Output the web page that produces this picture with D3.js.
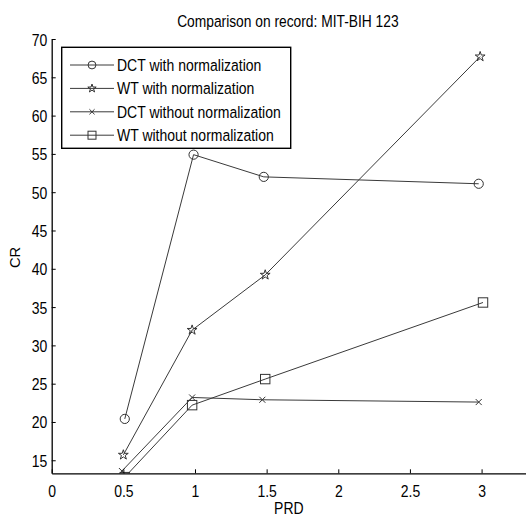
<!DOCTYPE html>
<html>
<head>
<meta charset="utf-8">
<script src="https://cdn.jsdelivr.net/npm/d3@7"></script>
<style>
  body { margin: 0; background: #fff; }
  text { font-family: "Liberation Sans", Arial, sans-serif; fill: #000; }
</style>
</head>
<body>
<div id="chart"></div>
<script>
// chart data
const SERIES_NAMES = ["DCT with normalization", "WT with normalization",
                      "DCT without normalization", "WT without normalization"];
const SERIES_MARKERS = ["circle", "star", "cross", "square"];

const PRD_DCT_NORM = [0.51, 0.99, 1.48, 2.98];
const CR_DCT_NORM = [20.4, 54.9, 52.0, 51.1];

const PRD_WT_NORM = [0.50, 0.98, 1.49, 2.99];
const CR_WT_NORM = [15.7, 32.0, 39.2, 67.7];

const PRD_DCT_RAW = [0.49, 0.98, 1.47, 2.98];
const CR_DCT_RAW = [13.6, 23.2, 22.9, 22.6];

const PRD_WT_RAW = [0.51, 0.98, 1.49, 3.01];
const CR_WT_RAW = [12.8, 22.2, 25.6, 35.6];

const X_TICKS = [0, 0.5, 1, 1.5, 2, 2.5, 3];
const Y_TICKS = [15, 20, 25, 30, 35, 40, 45, 50, 55, 60, 65, 70];

const TITLE = "Comparison on record: MIT-BIH 123";
const X_LABEL = "PRD";
const Y_LABEL = "CR";

// layout
const WIDTH = 526;
const HEIGHT = 518;
const MARGINS = {left: 51.7, right: 0, top: 39, bottom: 44.7};
const STRETCH = 1.18;   // the original figure is a bit taller than wide

const svg = d3.select("#chart")
  .append("svg")
    .attr("width", WIDTH)
    .attr("height", HEIGHT);

const x = d3.scaleLinear()
  .domain([0, 3.31])
  .range([MARGINS.left, WIDTH - MARGINS.right]);

const y = d3.scaleLinear()
  .domain([13.3, 70])
  .range([HEIGHT - MARGINS.bottom, MARGINS.top]);

const seriesData = [
  d3.zip(PRD_DCT_NORM, CR_DCT_NORM),
  d3.zip(PRD_WT_NORM, CR_WT_NORM),
  d3.zip(PRD_DCT_RAW, CR_DCT_RAW),
  d3.zip(PRD_WT_RAW, CR_WT_RAW)
];

// marker drawing
function drawMarker(g, kind, scale) {
  const s = scale || 1;
  if (kind === "circle") {
    g.append("circle").attr("r", 4.6 * s);
  } else if (kind === "square") {
    g.append("rect")
      .attr("x", -4.7 * s).attr("y", -4.7 * s)
      .attr("width", 9.4 * s).attr("height", 9.4 * s);
  } else if (kind === "star") {
    g.append("path").attr("d", d3.symbol(d3.symbolStar, 30 * s * s)());
  } else if (kind === "cross") {
    const r = 3 * s;
    g.append("path").attr("d", `M${-r},${-r}L${r},${r}M${-r},${r}L${r},${-r}`);
  }
}

// clip
svg.append("clipPath").attr("id", "plot-clip")
  .append("rect")
    .attr("x", MARGINS.left)
    .attr("y", 0)
    .attr("width", WIDTH - MARGINS.left)
    .attr("height", HEIGHT - MARGINS.bottom);

const plot = svg.append("g").attr("clip-path", "url(#plot-clip)");

const line = d3.line()
  .x((d) => x(d[0]))
  .y((d) => y(d[1]));

seriesData.forEach((pts, i) => {
  plot.append("path")
    .datum(pts)
    .attr("d", line)
    .attr("fill", "none")
    .attr("stroke", "#3a3a3a")
    .attr("stroke-width", 1);

  plot.selectAll(".m" + i)
    .data(pts)
    .enter()
    .append("g")
      .attr("class", "m" + i)
      .attr("transform", (d) => `translate(${x(d[0])},${y(d[1])})`)
      .attr("fill", "none")
      .attr("stroke", "#333")
      .attr("stroke-width", 1)
      .each(function () { drawMarker(d3.select(this), SERIES_MARKERS[i]); });
});

// axes
const xAxis = svg.append("g")
  .attr("transform", `translate(0,${HEIGHT - MARGINS.bottom})`)
  .call(d3.axisBottom(x)
    .tickValues(X_TICKS)
    .tickFormat((d) => d)
    .tickSizeInner(-4)
    .tickSizeOuter(0));

const yAxis = svg.append("g")
  .attr("transform", `translate(${MARGINS.left},0)`)
  .call(d3.axisLeft(y)
    .tickValues(Y_TICKS)
    .tickSizeInner(-4)
    .tickSizeOuter(0));

[xAxis, yAxis].forEach((a) => {
  a.select(".domain").attr("stroke", "#000").attr("stroke-width", 1.3);
  a.selectAll(".tick line").attr("stroke", "#000");
  a.selectAll(".tick text")
    .attr("font-size", 14)
    .attr("font-family", "Liberation Sans, Arial, sans-serif")
    .attr("fill", "#000")
    .attr("x", null)
    .attr("y", null)
    .attr("dy", null);
});

xAxis.selectAll(".tick text")
  .attr("transform", `translate(0,23.4) scale(1,${STRETCH})`);
yAxis.selectAll(".tick text")
  .attr("transform", `translate(-4.5,6) scale(1,${STRETCH})`);

// titles
const plotMidX = (MARGINS.left + WIDTH - MARGINS.right) / 2;

svg.append("text")
  .attr("transform", `translate(${plotMidX - 1},26.7) scale(1,${STRETCH})`)
  .attr("text-anchor", "middle")
  .attr("font-size", 13.8)
  .text(TITLE);

svg.append("text")
  .attr("transform", `translate(${plotMidX},513.5) scale(1,${STRETCH})`)
  .attr("text-anchor", "middle")
  .attr("font-size", 14)
  .text(X_LABEL);

svg.append("text")
  .attr("transform", `translate(20,257.5) rotate(-90) scale(1.05,1)`)
  .attr("text-anchor", "middle")
  .attr("font-size", 14)
  .text(Y_LABEL);

// legend
const legend = svg.append("g");

legend.append("rect")
  .attr("x", 61.7)
  .attr("y", 47.3)
  .attr("width", 229)
  .attr("height", 101)
  .attr("fill", "#fff")
  .attr("stroke", "#000")
  .attr("stroke-width", 1.4);

SERIES_NAMES.forEach((name, i) => {
  const rowY = 65 + i * 23.4;
  const row = legend.append("g").attr("transform", `translate(0,${rowY})`);
  row.append("line")
    .attr("x1", 70).attr("x2", 114)
    .attr("y1", 0).attr("y2", 0)
    .attr("stroke", "#3a3a3a")
    .attr("stroke-width", 1);
  const m = row.append("g")
    .attr("transform", "translate(92,0)")
    .attr("fill", "none")
    .attr("stroke", "#333")
    .attr("stroke-width", 1);
  drawMarker(m, SERIES_MARKERS[i], 0.85);
  row.append("text")
    .attr("transform", `translate(117,6) scale(1,${STRETCH})`)
    .attr("font-size", 14)
    .text(name);
});
</script>
</body>
</html>
